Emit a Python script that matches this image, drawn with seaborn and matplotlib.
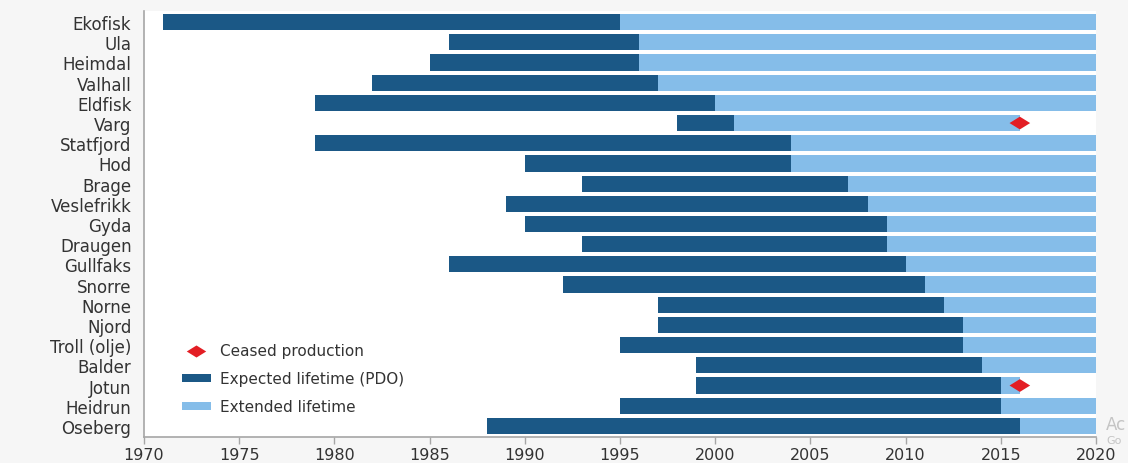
import matplotlib
matplotlib.use("Agg")
import matplotlib.pyplot as plt
import seaborn as sns
import pandas as pd
from matplotlib.lines import Line2D
from matplotlib.patches import Patch
from matplotlib.path import Path

# Norwegian oil fields: start-up year, end of lifetime in the PDO, and actual/extended end
fields = ["Ekofisk", "Ula", "Heimdal", "Valhall", "Eldfisk", "Varg", "Statfjord", "Hod",
          "Brage", "Veslefrikk", "Gyda", "Draugen", "Gullfaks", "Snorre", "Norne", "Njord",
          "Troll (olje)", "Balder", "Jotun", "Heidrun", "Oseberg"]
start_year = [1971, 1986, 1985, 1982, 1979, 1998, 1979, 1990, 1993, 1989, 1990, 1993,
              1986, 1992, 1997, 1997, 1995, 1999, 1999, 1995, 1988]
pdo_end = [1995, 1996, 1996, 1997, 2000, 2001, 2004, 2004, 2007, 2008, 2009, 2009,
           2010, 2011, 2012, 2013, 2013, 2014, 2015, 2015, 2016]
extended_end = [2020, 2020, 2020, 2020, 2020, 2016, 2020, 2020, 2020, 2020, 2020, 2020,
                2020, 2020, 2020, 2020, 2020, 2020, 2016, 2020, 2020]
ceased_fields = ["Varg", "Jotun"]
ceased_year = [2016, 2016]
year_ticks = list(range(1970, 2021, 5))

DARK = "#1b5886"
LIGHT = "#85bde9"
RED = "#e31e24"

# wide, flat diamond used for the "ceased production" marks
FLAT_DIAMOND = Path([(-1, 0), (0, 0.62), (1, 0), (0, -0.62), (-1, 0)],
                    [Path.MOVETO, Path.LINETO, Path.LINETO, Path.LINETO, Path.CLOSEPOLY])

sns.set_theme(style="white")
plt.rcParams["font.family"] = ["DejaVu Sans"]

df = pd.DataFrame({"field": fields, "start": start_year,
                   "pdo": pdo_end, "ext": extended_end})
df["pos"] = range(len(df))
ceased = pd.DataFrame({"field": ceased_fields, "year": ceased_year})
ceased["pos"] = ceased["field"].map(dict(zip(fields, range(len(fields)))))

fig = plt.figure(figsize=(11.28, 4.64), dpi=100, facecolor="#f6f6f6")
ax = fig.add_axes([144 / 1128, 1 - 438 / 464, (1096 - 144) / 1128, (438 - 12) / 464])
ax.set_facecolor("white")

h = 0.8
ax.barh(df["pos"], df["ext"] - df["pdo"], left=df["pdo"], height=h,
        color=LIGHT, edgecolor="none", zorder=2)
ax.barh(df["pos"], df["pdo"] - df["start"], left=df["start"], height=h,
        color=DARK, edgecolor="none", zorder=3)
sns.scatterplot(data=ceased, x="year", y="pos", marker=FLAT_DIAMOND, s=220, color=RED,
                edgecolor="none", linewidth=0, ax=ax, zorder=4, legend=False)

ax.set_xlim(1970, 2020)
ax.set_ylim(len(fields) - 0.45, -0.55)
ax.set_xticks(year_ticks)
ax.set_xticklabels([str(y) for y in year_ticks])
ax.set_yticks(range(len(fields)))
ax.set_yticklabels(fields)
ax.set_xlabel("")
ax.set_ylabel("")

for side in ["top", "right"]:
    ax.spines[side].set_visible(False)
for side in ["left", "bottom"]:
    ax.spines[side].set_visible(True)
    ax.spines[side].set_color("#a6a6a6")
    ax.spines[side].set_linewidth(1.2)

ax.tick_params(axis="y", length=0, pad=9, labelsize=12, labelcolor="#333333")
ax.tick_params(axis="x", bottom=True, length=5, width=1, color="#a6a6a6",
               pad=2.5, labelsize=11.5, labelcolor="#333333")

handles = [
    Line2D([0], [0], marker=FLAT_DIAMOND, linestyle="none", markersize=14,
           markerfacecolor=RED, markeredgecolor="none"),
    Patch(facecolor=DARK, edgecolor="none"),
    Patch(facecolor=LIGHT, edgecolor="none"),
]
labels = ["Ceased production", "Expected lifetime (PDO)", "Extended lifetime"]
ax.legend(handles, labels, loc="lower left", bbox_to_anchor=(0.025, 0.021),
          frameon=False, fontsize=11, labelcolor="#333333",
          handlelength=1.9, handleheight=0.45, handletextpad=0.6, labelspacing=0.85)

fig.text(1106 / 1128, 1 - 425 / 464, "Ac", fontsize=12,
         color="#c4c4c4", va="center", ha="left")
fig.text(1106 / 1128, 1 - 441 / 464, "Go", fontsize=8,
         color="#c4c4c4", va="center", ha="left")

fig.savefig("out.png", dpi=100, facecolor=fig.get_facecolor())
